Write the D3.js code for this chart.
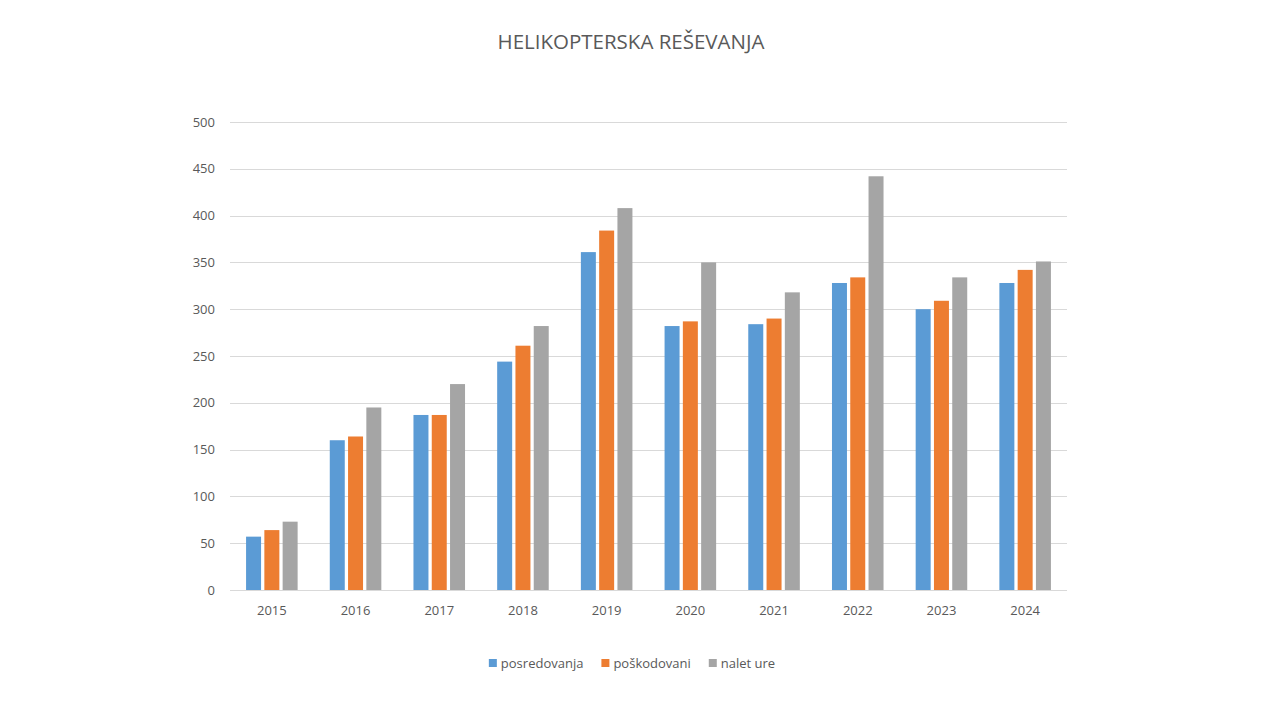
<!DOCTYPE html>
<html><head><meta charset="utf-8">
<script src="https://cdn.jsdelivr.net/npm/d3@7"></script>
<style>
html,body{margin:0;padding:0;background:#fff;}
svg text{font-family:"Open Sans","Noto Sans",sans-serif;fill:#595959;}
</style></head>
<body>
<svg id="chart" width="1279" height="719"></svg>
<script>
const years = ["2015","2016","2017","2018","2019","2020","2021","2022","2023","2024"];
const seriesNames = ["posredovanja","poškodovani","nalet ure"];
const posredovanja = [57,160,187,244,361,282,284,328,300,328];
const poskodovani = [64,164,187,261,384,287,290,334,309,342];
const naletUre = [73,195,220,282,408,350,318,442,334,351];
const yTicks = [0,50,100,150,200,250,300,350,400,450,500];
const colors = ["#5b9bd5","#ed7d31","#a5a5a5"];
const titleText = "HELIKOPTERSKA REŠEVANJA";

(function(){
const seriesValues = [posredovanja, poskodovani, naletUre];
const svg = d3.select("#chart");
const mLeft = 230, mRight = 1067, mTop = 122, mBottom = 590;

const x0 = d3.scaleBand().domain(years).range([mLeft,mRight]).paddingInner(0.384).paddingOuter(0.192);
const x1 = d3.scaleBand().domain(seriesNames).range([0,x0.bandwidth()]).paddingInner(0.18).paddingOuter(0);
const y = d3.scaleLinear().domain([0,500]).range([mBottom,mTop]);

// gridlines
svg.append("g").selectAll("line").data(yTicks).join("line")
  .attr("x1",mLeft).attr("x2",mRight)
  .attr("y1",d=>Math.round(y(d))+0.5).attr("y2",d=>Math.round(y(d))+0.5)
  .attr("stroke","#d9d9d9").attr("stroke-width",1);

// y axis labels
const yAxis = d3.axisLeft(y).tickValues(yTicks).tickSize(0).tickPadding(0);
const gy = svg.append("g").attr("transform",`translate(${215},0)`).call(yAxis);
gy.select(".domain").remove();
gy.selectAll("text").style("font-size","13px").attr("fill","#595959");

// x axis labels
const xAxis = d3.axisBottom(x0).tickSize(0).tickPadding(0);
const gx = svg.append("g").attr("transform",`translate(0,${606})`).call(xAxis);
gx.select(".domain").remove();
gx.selectAll("text").style("font-size","13px").attr("fill","#595959");

// bars
const groups = svg.append("g").selectAll("g").data(years).join("g")
  .attr("transform",d=>`translate(${x0(d)},0)`);
groups.selectAll("rect").data((d,i)=>seriesNames.map((s,j)=>({s,j,v:seriesValues[j][i]}))).join("rect")
  .attr("x",d=>x1(d.s)).attr("width",x1.bandwidth())
  .attr("y",d=>y(d.v)).attr("height",d=>y(0)-y(d.v))
  .attr("fill",d=>colors[d.j]);

// title
svg.append("text").attr("x",631).attr("y",49).attr("text-anchor","middle")
  .style("font-size","20.5px").text(titleText);

// legend
const leg = svg.append("g");
let cx = 0;
seriesNames.forEach((s,i)=>{
  const g = leg.append("g").attr("transform",`translate(${cx},0)`);
  g.append("rect").attr("x",0).attr("y",-4).attr("width",8).attr("height",8).attr("fill",colors[i]);
  const t = g.append("text").attr("x",12).attr("y",0).attr("dy","0.35em").style("font-size","13px").text(s);
  cx += 12 + t.node().getComputedTextLength() + 18;
});
const legW = cx - 18;
leg.attr("transform",`translate(${632 - legW/2},${663})`);
})();
</script>
</body></html>
